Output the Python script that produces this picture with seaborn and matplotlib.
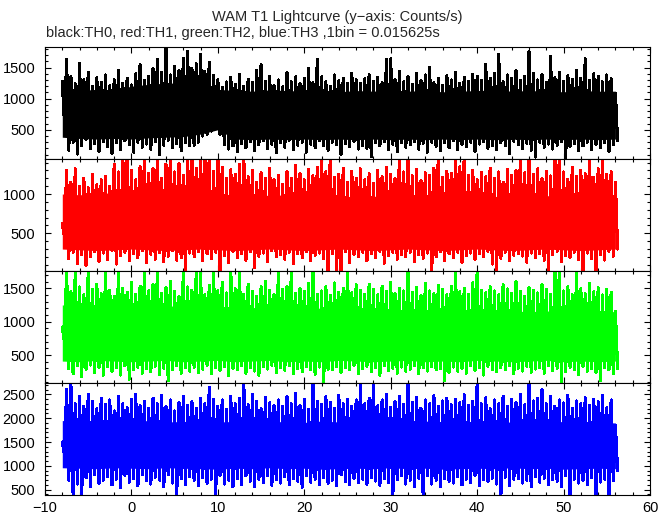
import numpy as np
import pandas as pd
import matplotlib
matplotlib.use("Agg")
import matplotlib.pyplot as plt
import seaborn as sns
from matplotlib.ticker import MultipleLocator

# ---------------- data (counts/s) ----------------
T_START = -8.0      # s, first sample
STEP = 0.5          # s between successive peak samples
CORE_STEP = 2.0     # s between samples of the dense core band

# TH0 (black)
th0_hi = [1280, 1630, 1350, 1240, 1560, 1300, 1420, 1190, 1340, 1260,
          1380, 1210, 1300, 1450, 1250, 1330, 1220, 1400, 1550, 1290,
          1360, 1480, 1630, 1420, 1800, 1380, 1520, 1450, 1650, 1760,
          1490, 1560, 1710, 1440, 1580, 1370, 1300, 1180, 1270, 1340,
          1230, 1390, 1200, 1310, 1260, 1450, 1550, 1280, 1360, 1210,
          1300, 1190, 1420, 1270, 1350, 1240, 1320, 1480, 1260, 1630,
          1350, 1270, 1200, 1380, 1290, 1330, 1240, 1410, 1300, 1250,
          1320, 1390, 1280, 1340, 1260, 1630, 1640, 1300, 1440, 1270,
          1350, 1230, 1410, 1290, 1380, 1500, 1260, 1330, 1210, 1370,
          1300, 1420, 1250, 1340, 1280, 1390, 1360, 1290, 1550, 1330,
          1410, 1710, 1270, 1380, 1320, 1450, 1290, 1360, 1760, 1400,
          1300, 1390, 1260, 1680, 1340, 1420, 1280, 1370, 1310, 1450,
          1330, 1640, 1290, 1400, 1360, 1270, 1380, 1320, 1090]
th0_lo = [600, 170, 300, 110, 250, 340, 200, 280, 150, 310,
          230, 120, 290, 180, 320, 260, 140, 300, 220, 270,
          190, 310, 100, 250, 330, 210, 280, 160, 300, 240,
          250, 300, 400, 430, 480, 580, 420, 260, 190, 240,
          150, 280, 210, 310, 170, 260, 320, 200, 270, 130,
          290, 220, 330, 180, 250, 300, 140, 270, 210, 320,
          240, 170, 300, 260, 110, 280, 230, 310, 190, 250,
          200, 65, 290, 240, 310, 180, 270, 150, 300, 220,
          260, 310, 190, 280, 140, 300, 230, 170, 290, 210,
          320, 180, 260, 230, 300, 150, 270, 310, 200, 250,
          180, 290, 240, 120, 310, 260, 200, 280, 170, 60,
          300, 220, 270, 190, 250, 310, 60, 230, 280, 160,
          240, 300, 180, 270, 210, 290, 150, 260, 320]
th0_core_hi = [1150, 1130, 1150, 1140, 1200, 1230, 1250, 1250, 1230, 1150,
               1130, 1120, 1140, 1130, 1120, 1130, 1110, 1130, 1120, 1140,
               1120, 1130, 1110, 1120, 1130, 1140, 1120, 1130, 1120, 1110,
               1130, 1120, 1120]
th0_core_lo = [380, 360, 350, 360, 350, 370, 380, 390, 430, 500,
               350, 340, 350, 340, 350, 340, 350, 340, 350, 340,
               350, 340, 350, 340, 350, 340, 350, 340, 350, 340,
               350, 340, 350]

# TH1 (red)
th1_hi = [620, 1300, 1150, 1320, 1100, 1200, 1080, 1250, 1120, 1180,
          1220, 1100, 1380, 1280, 1500, 1500, 1300, 1180, 1350, 1500,
          1260, 1320, 1500, 1200, 1380, 1500, 1280, 1390, 1240, 1500,
          1500, 1330, 1500, 1500, 1500, 1290, 1500, 1340, 1200, 1310,
          1250, 1380, 1500, 1220, 1300, 1150, 1270, 1200, 1330, 1180,
          1240, 1120, 1290, 1200, 1360, 1260, 1180, 1310, 1230, 1340,
          1500, 1280, 1500, 1210, 1250, 1330, 1150, 1290, 1200, 1320,
          1180, 1260, 1130, 1300, 1220, 1340, 1250, 1200, 1500, 1280,
          1500, 1230, 1310, 1170, 1270, 1240, 1330, 1500, 1210, 1290,
          1260, 1500, 1350, 1500, 1240, 1300, 1180, 1270, 1220, 1330,
          1200, 1280, 1150, 1310, 1240, 1300, 1500, 1270, 1500, 1250,
          1320, 1200, 1290, 1230, 1500, 1500, 1280, 1190, 1340, 1220,
          1300, 1260, 1500, 1210, 1320, 1500, 1250, 1280, 1150]
th1_lo = [450, 180, 260, 120, 230, 90, 200, 270, 140, 250,
          170, 280, 110, 220, 260, 150, 240, 190, 280, 130,
          230, 170, 260, 140, 210, 280, 160, 190, 0, 250,
          200, 270, 150, 240, 180, 260, 0, 220, 130, 270,
          190, 240, 160, 270, 60, 210, 250, 140, 280, 200,
          230, 170, 260, 120, 240, 190, 270, 150, 220, 250,
          180, 0, 240, 30, 0, 270, 130, 230, 200, 260,
          150, 240, 190, 270, 120, 220, 260, 170, 230, 200,
          260, 140, 230, 180, 250, 0, 200, 270, 150, 240,
          190, 260, 130, 220, 250, 170, 240, 200, 270, 110,
          0, 180, 260, 150, 220, 240, 210, 130, 250, 190,
          240, 160, 0, 230, 270, 140, 220, 190, 260, 170,
          0, 250, 180, 0, 230, 160, 270, 210, 300]
th1_core_hi = [1000, 990, 1000, 1020, 1030, 1040, 1030, 1040, 1020, 1000,
               990, 1000, 980, 990, 980, 970, 980, 960, 970, 980,
               970, 960, 970, 980, 960, 970, 960, 970, 980, 960,
               970, 960, 960]
th1_core_lo = [300, 290, 280, 290, 300, 290, 280, 290, 300, 290,
               280, 290, 300, 290, 280, 290, 300, 290, 280, 290,
               300, 290, 280, 290, 300, 290, 280, 290, 300, 290,
               280, 290, 300]

# TH2 (green)
th2_hi = [920, 1780, 1450, 1780, 1520, 1400, 1780, 1480, 1560, 1420,
          1780, 1470, 1380, 1780, 1500, 1440, 1590, 1410, 1530, 1780,
          1460, 1550, 1780, 1420, 1510, 1600, 1450, 1380, 1780, 1520,
          1470, 1780, 1780, 1400, 1540, 1780, 1460, 1590, 1430, 1780,
          1490, 1780, 1410, 1560, 1450, 1380, 1520, 1600, 1470, 1400,
          1780, 1480, 1530, 1780, 1420, 1500, 1450, 1570, 1780, 1410,
          1460, 1520, 1390, 1580, 1440, 1500, 1780, 1430, 1550, 1470,
          1410, 1560, 1480, 1400, 1530, 1450, 1590, 1420, 1500, 1460,
          1780, 1440, 1510, 1390, 1570, 1460, 1420, 1540, 1480, 1400,
          1530, 1780, 1450, 1500, 1410, 1580, 1780, 1470, 1430, 1520,
          1460, 1400, 1550, 1490, 1420, 1600, 1450, 1380, 1510, 1470,
          1430, 1560, 1480, 1410, 1780, 1780, 1460, 1520, 1400, 1780,
          1490, 1420, 1570, 1450, 1510, 1400, 1480, 1440, 1150]
th2_lo = [700, 300, 220, 340, 180, 290, 350, 240, 310, 200,
          330, 260, 310, 200, 340, 140, 280, 320, 230, 300,
          250, 330, 210, 300, 117, 280, 340, 230, 310, 260,
          320, 240, 290, 350, 220, 310, 270, 330, 190, 300,
          280, 340, 230, 310, 260, 200, 330, 290, 350, 240,
          310, 270, 340, 220, 300, 250, 330, 280, 210, 320,
          100, 290, 280, 330, 240, 310, 280, 350, 220, 300,
          330, 250, 310, 200, 340, 270, 300, 230, 320, 260,
          290, 340, 220, 310, 260, 330, 280, 300, 117, 240,
          320, 260, 300, 230, 340, 270, 310, 200, 330, 280,
          250, 310, 280, 340, 220, 300, 260, 330, 240, 290,
          310, 230, 340, 270, 300, 100, 250, 320, 280, 210,
          330, 260, 300, 240, 117, 310, 280, 220, 300]
th2_core_hi = [1250, 1240, 1250, 1230, 1240, 1250, 1230, 1240, 1220, 1230,
               1220, 1210, 1220, 1200, 1210, 1200, 1180, 1170, 1160, 1170,
               1160, 1150, 1160, 1150, 1170, 1150, 1160, 1150, 1160, 1150,
               1160, 1150, 1150]
th2_core_lo = [410, 400, 420, 410, 400, 410, 420, 400, 410, 420,
               400, 410, 420, 400, 410, 400, 420, 410, 400, 410,
               420, 400, 410, 400, 420, 410, 400, 410, 420, 400,
               410, 400, 410]

# TH3 (blue)
th3_hi = [1500, 2600, 2700, 2300, 2450, 2250, 2500, 2350, 2200, 2420,
          2280, 2380, 2150, 2450, 2300, 2220, 2400, 2500, 2260, 2350,
          2200, 2420, 2300, 2480, 2250, 2380, 2150, 2320, 2450, 2270,
          2350, 2200, 2420, 2300, 2650, 2400, 2250, 2380, 2180, 2460,
          2300, 2420, 2750, 2280, 2500, 2350, 2200, 2430, 2320, 2260,
          2380, 2240, 2450, 2300, 2520, 2260, 2400, 2180, 2750, 2350,
          2280, 2450, 2330, 2200, 2480, 2300, 2400, 2250, 2380, 2750,
          2300, 2420, 2750, 2260, 2380, 2500, 2220, 2350, 2450, 2290,
          2750, 2330, 2440, 2210, 2380, 2300, 2470, 2250, 2360, 2420,
          2280, 2400, 2320, 2490, 2260, 2350, 2750, 2300, 2430, 2200,
          2380, 2300, 2460, 2240, 2400, 2330, 2500, 2280, 2750, 2360,
          2420, 2600, 2300, 2450, 2250, 2380, 2320, 2480, 2210, 2360,
          2300, 2430, 2260, 2400, 2340, 2470, 2220, 2380, 1850]
th3_lo = [1230, 700, 380, 620, 380, 750, 560, 820, 640, 700,
          780, 600, 720, 540, 800, 660, 740, 580, 820, 690,
          620, 760, 700, 560, 810, 640, 420, 730, 600, 780,
          690, 580, 750, 640, 720, 380, 800, 620, 700, 560,
          740, 610, 790, 680, 560, 720, 650, 800, 590, 710,
          640, 770, 600, 730, 680, 550, 790, 660, 720, 610,
          750, 640, 700, 580, 810, 670, 600, 740, 650, 720,
          610, 760, 680, 590, 730, 650, 380, 710, 800, 620,
          700, 570, 740, 380, 790, 620, 700, 560, 730, 680,
          640, 780, 600, 720, 650, 800, 580, 710, 670, 740,
          620, 380, 760, 590, 720, 730, 640, 700, 560, 780,
          660, 740, 600, 710, 680, 560, 790, 380, 720, 640,
          700, 610, 750, 380, 660, 720, 380, 690, 900]
th3_core_hi = [1950, 1930, 1920, 1940, 1930, 1950, 1920, 1930, 1940, 1920,
               1930, 1950, 1920, 1930, 1910, 1940, 1920, 1930, 1910, 1920,
               1930, 1940, 1910, 1920, 1930, 1910, 1920, 1940, 1910, 1930,
               1920, 1910, 1900]
th3_core_lo = [960, 950, 940, 960, 950, 940, 960, 950, 940, 930,
               950, 940, 960, 940, 950, 930, 940, 950, 940, 960,
               940, 950, 930, 940, 950, 940, 960, 940, 950, 930,
               940, 950, 940]

channels = ["TH0", "TH1", "TH2", "TH3"]
colors = ["#000000", "#ff0000", "#00ff00", "#0000ff"]
y_limits = [(30, 1830), (21, 1445), (82, 1758), (389, 2737)]
x_ticks = [-10, 0, 10, 20, 30, 40, 50, 60]

title = "WAM T1 Lightcurve (y\u2212axis: Counts/s)"
subtitle = "black:TH0, red:TH1, green:TH2, blue:TH3 ,1bin = 0.015625s"

# ---------------- plotting ----------------
sns.set_theme(style="ticks")
plt.rcParams['font.family'] = ['Liberation Sans', 'DejaVu Sans']
plt.rcParams['axes.linewidth'] = 0.8

fig = plt.figure(figsize=(6.72, 5.15), dpi=100)
left, width = 45 / 672, 605 / 672
h = 112 / 515
bottoms = [1 - 159 / 515, 1 - 271 / 515, 1 - 383 / 515, 1 - 495 / 515]

series = [(th0_hi, th0_lo, th0_core_hi, th0_core_lo),
          (th1_hi, th1_lo, th1_core_hi, th1_core_lo),
          (th2_hi, th2_lo, th2_core_hi, th2_core_lo),
          (th3_hi, th3_lo, th3_core_hi, th3_core_lo)]

for k, ((hi, lo, chi, clo), col, yl, b) in enumerate(zip(series, colors, y_limits, bottoms)):
    ax = fig.add_axes([left, b, width, h])
    n = len(hi)
    t = T_START + STEP * np.arange(n)
    x = np.empty(2 * n)
    y = np.empty(2 * n)
    x[0::2] = t
    x[1::2] = t + STEP / 2
    y[0::2] = hi
    y[1::2] = lo
    df = pd.DataFrame({"time": x, "rate": y})
    ct = T_START + CORE_STEP * np.arange(len(chi))
    ax.fill_between(ct, clo, chi, color=col, linewidth=0, antialiased=False)
    sns.lineplot(data=df, x="time", y="rate", ax=ax, color=col, linewidth=1.5,
                 estimator=None, sort=False, antialiased=False)
    ax.set_xlim(-10, 60)
    ax.set_ylim(*yl)
    ax.set_xlabel("")
    ax.set_ylabel("")
    ax.set_xticks(x_ticks)
    ax.xaxis.set_minor_locator(MultipleLocator(2))
    ax.yaxis.set_major_locator(MultipleLocator(500))
    ax.yaxis.set_minor_locator(MultipleLocator(100))
    ax.tick_params(axis="both", which="both", direction="in", top=True, right=True,
                   colors="black", width=0.8, labelsize=10.5)
    ax.tick_params(which="major", length=4.5)
    ax.tick_params(which="minor", length=2.5)
    ax.tick_params(axis="y", pad=7)
    ax.tick_params(axis="x", pad=4)
    for s in ax.spines.values():
        s.set_color("black")
        s.set_linewidth(0.8)
        s.set_visible(True)
        s.set_zorder(5)
    if k < 3:
        ax.tick_params(axis="x", labelbottom=False)

fig.text(0.502, 1 - 17 / 515, title, ha="center", va="center", fontsize=10.5)
fig.text(46 / 672, 1 - 33 / 515, subtitle, ha="left", va="center", fontsize=10.5)

fig.savefig("out.png", dpi=100, facecolor="white")
